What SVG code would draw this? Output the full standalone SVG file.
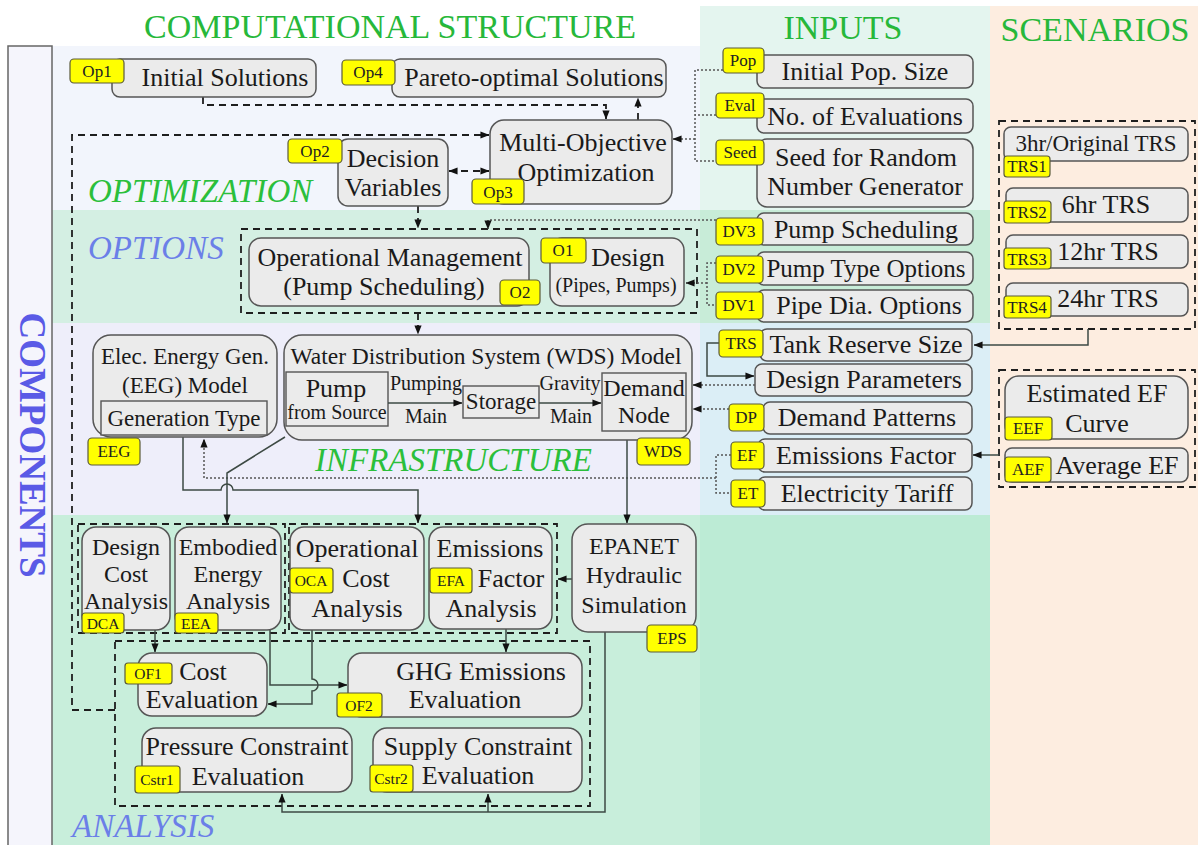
<svg xmlns="http://www.w3.org/2000/svg" width="1198" height="845" viewBox="0 0 1198 845">
<style>
.n{fill:#ebebeb;stroke:#555;stroke-width:1.5}
.in{fill:#ebebeb;stroke:#555;stroke-width:1.4}
.tag{fill:#ffff00;stroke:#5a5a3a;stroke-width:1.2}
.t{font-family:"Liberation Serif","Times New Roman",serif;fill:#1a1a1a;text-anchor:middle;font-size:26px}
.s20{font-size:20px}
.s23{font-size:23px}
.s24{font-size:24px}
.s25{font-size:25px}
.tg{font-size:17px;fill:#222}
.tg2{font-size:15.5px;fill:#222}
.hd{font-family:"Liberation Serif","Times New Roman",serif;font-size:34px;fill:#27b83a;text-anchor:middle}
.sec{font-family:"Liberation Serif","Times New Roman",serif;font-size:33px;font-style:italic}
.dash{fill:none;stroke:#1e1e1e;stroke-width:1.8;stroke-dasharray:7 5}
.dot{fill:none;stroke:#555;stroke-width:1.5;stroke-dasharray:2 2}
.sol{fill:none;stroke:#3d4a44;stroke-width:1.5}
</style>
<defs>
<marker id="ah" viewBox="0 0 10 10" refX="9.5" refY="5" markerWidth="9" markerHeight="9" markerUnits="userSpaceOnUse" orient="auto-start-reverse">
<path d="M0,1 L10,5 L0,9 z" fill="#111"/>
</marker>
</defs>

<rect x="0" y="0" width="1198" height="845" fill="#ffffff"/>
<rect x="52" y="46" width="648" height="164" fill="#f2f5fc"/>
<rect x="52" y="210" width="648" height="113" fill="#d4efe3"/>
<rect x="52" y="323" width="648" height="192" fill="#eeeefa"/>
<rect x="52" y="515" width="648" height="330" fill="#c8eedb"/>
<rect x="700" y="6" width="290" height="204" fill="#e4f5ef"/>
<rect x="700" y="210" width="290" height="113" fill="#c8ecd8"/>
<rect x="700" y="323" width="290" height="192" fill="#dbeef6"/>
<rect x="700" y="515" width="290" height="330" fill="#bcebd5"/>
<rect x="990" y="6" width="208" height="839" fill="#fdede0"/>
<rect x="8" y="46" width="44" height="805" fill="#f5f5fc" stroke="#666" stroke-width="1.5"/>

<text class="hd" x="390" y="38">COMPUTATIONAL STRUCTURE</text>
<text class="hd" x="843" y="39">INPUTS</text>
<text class="hd" x="1095" y="41">SCENARIOS</text>
<text transform="translate(20,445) rotate(90)" font-family="Liberation Serif, Times New Roman, serif" font-size="37" font-weight="bold" fill="#5a5ae6" text-anchor="middle">COMPONENTS</text>
<text class="sec" x="88" y="202" fill="#2bbf3b">OPTIMIZATION</text>
<text class="sec" x="88" y="259" fill="#6b7fe8">OPTIONS</text>
<text class="sec" x="315" y="471" fill="#2bbf3b">INFRASTRUCTURE</text>
<text class="sec" x="72" y="837" fill="#6b7fe8">ANALYSIS</text>

<g id="containers">
<rect class="dash" x="241" y="229" width="456" height="84"/>
<rect class="dash" x="999" y="121" width="196" height="208"/>
<rect class="dash" x="999" y="370" width="196" height="117"/>
<rect class="dash" x="78" y="524" width="207" height="109"/>
<rect class="dash" x="289" y="524" width="268" height="109"/>
<rect class="dash" x="115" y="641" width="475" height="165"/>
</g>

<g id="connectors">
<path class="dash" d="M203,97 V105 H606 V119" marker-end="url(#ah)"/>
<path class="dash" d="M638,120 V98" marker-end="url(#ah)"/>
<path class="dash" d="M115,710 H72 V135 H489" marker-end="url(#ah)"/>
<path class="dash" d="M449,171 H489" marker-start="url(#ah)" marker-end="url(#ah)"/>
<path class="dash" d="M418,206 V228" marker-end="url(#ah)"/>
<path class="dot" d="M723,70 H695 V161 H716 M716,115 H695"/>
<path class="dot" d="M695,139 H673" marker-end="url(#ah)"/>
<path class="dot" d="M716,220 H488 V229" marker-end="url(#ah)"/>
<path class="dot" d="M716,263 H707 V305 H716"/>
<path class="dot" d="M707,283 H686" marker-end="url(#ah)"/>
<path class="dash" d="M418,313 V334" marker-end="url(#ah)"/>
<path class="sol" d="M719,343 H707 V376 H754" marker-end="url(#ah)"/>
<path class="dot" d="M755,385 H693" marker-end="url(#ah)"/>
<path class="dot" d="M729,409 H693" marker-end="url(#ah)"/>
<path class="dot" d="M731,455 H716 V493 H731"/>
<path class="dot" d="M716,478 H204 V439" marker-end="url(#ah)"/>
<path class="sol" d="M1088,329 V345 H974" marker-end="url(#ah)"/>
<path class="sol" d="M999,455 H973" marker-end="url(#ah)"/>
<path class="sol" d="M285,437 L227,473 V523" marker-end="url(#ah)"/>
<path class="sol" d="M183,437 V490 H221 A6,6 0 0 1 233,490 H418 V523" marker-end="url(#ah)"/>
<path class="sol" d="M627,432 V523" marker-end="url(#ah)"/>
<path class="sol" d="M572,579 H558" marker-end="url(#ah)"/>
<path class="sol" d="M605,632 V812 H282 V794" marker-end="url(#ah)"/>
<path class="sol" d="M488,812 V794" marker-end="url(#ah)"/>
<path class="sol" d="M155,630 V652" marker-end="url(#ah)"/>
<path class="sol" d="M270,630 V685 H347" marker-end="url(#ah)"/>
<path class="sol" d="M312,630 V679 A6,6 0 0 1 312,691 V704 H268" marker-end="url(#ah)"/>
<path class="sol" d="M506,629 V652" marker-end="url(#ah)"/>
</g>

<g id="op1"><rect class="n" x="112" y="59" width="204" height="38" rx="8"/><text class="t" x="225" y="86">Initial Solutions</text><rect class="tag" x="70" y="59" width="54" height="24" rx="4"/><text class="t tg" x="97" y="77">Op1</text></g>
<g id="op4"><rect class="n" x="392" y="59" width="274" height="38" rx="8"/><text class="t" x="534" y="86">Pareto-optimal Solutions</text><rect class="tag" x="342" y="60" width="53" height="25" rx="4"/><text class="t tg" x="368" y="78">Op4</text></g>
<g id="op3"><rect class="n" x="490" y="120" width="182" height="84" rx="14"/><text class="t" x="583" y="151">Multi-Objective</text><text class="t" x="586" y="181">Optimization</text><rect class="tag" x="472" y="179" width="52" height="25" rx="4"/><text class="t tg" x="498" y="198">Op3</text></g>
<g id="op2"><rect class="n" x="338" y="139" width="110" height="67" rx="10"/><text class="t" x="393" y="167">Decision</text><text class="t" x="393" y="196">Variables</text><rect class="tag" x="288" y="139" width="54" height="24" rx="4"/><text class="t tg" x="315" y="157">Op2</text></g>

<g id="o2"><rect class="n" x="249" y="238" width="280" height="68" rx="12"/><text class="t" x="390" y="266">Operational Management</text><text class="t" x="384" y="295">(Pump Scheduling)</text><rect class="tag" x="500" y="280" width="40" height="25" rx="4"/><text class="t tg" x="520" y="298">O2</text></g>
<g id="o1"><rect class="n" x="550" y="238" width="134" height="68" rx="12"/><text class="t" x="628" y="266">Design</text><text class="t s20" x="616" y="292">(Pipes, Pumps)</text><rect class="tag" x="541" y="238" width="45" height="25" rx="4"/><text class="t tg" x="563" y="256">O1</text></g>

<g id="eeg"><rect class="n" x="93" y="335" width="184" height="102" rx="18"/><text class="t s23" x="185" y="364">Elec. Energy Gen.</text><text class="t s23" x="185" y="393">(EEG) Model</text><rect class="in" x="101" y="401" width="166" height="34"/><text class="t s23" x="184" y="426">Generation Type</text><rect class="tag" x="88" y="438" width="52" height="27" rx="4"/><text class="t tg" x="114" y="457">EEG</text></g>
<g id="wds"><rect class="n" x="284" y="335" width="408" height="105" rx="18"/><text class="t" style="font-size:23.5px" x="486" y="364">Water Distribution System (WDS) Model</text>
<rect class="in" x="286" y="372" width="102" height="54"/><text class="t" x="336" y="397">Pump</text><text class="t s20" x="337" y="419">from Source</text>
<text class="t s20" x="426" y="390">Pumping</text><text class="t s20" x="426" y="423">Main</text>
<path class="sol" d="M388,403 H462" marker-end="url(#ah)"/>
<rect class="in" x="463" y="386" width="76" height="32"/><text class="t s23" x="501" y="409">Storage</text>
<text class="t s20" x="570" y="390">Gravity</text><text class="t s20" x="571" y="423">Main</text>
<path class="sol" d="M539,403 H601" marker-end="url(#ah)"/>
<rect class="in" x="602" y="373" width="84" height="58"/><text class="t s24" x="644" y="396">Demand</text><text class="t s24" x="644" y="423">Node</text>
<rect class="tag" x="637" y="438" width="53" height="27" rx="4"/><text class="t tg" x="663" y="457">WDS</text></g>

<g id="pop"><rect class="n" x="757" y="55" width="216" height="33" rx="7"/><text class="t" x="865" y="80">Initial Pop. Size</text><rect class="tag" x="723" y="48" width="41" height="25" rx="4"/><text class="t tg" x="743" y="66">Pop</text></g>
<g id="eval"><rect class="n" x="757" y="99" width="216" height="34" rx="7"/><text class="t" x="865" y="125">No. of Evaluations</text><rect class="tag" x="716" y="93" width="48" height="25" rx="4"/><text class="t tg" x="740" y="111">Eval</text></g>
<g id="seed"><rect class="n" x="757" y="139" width="216" height="68" rx="10"/><text class="t" x="866" y="166">Seed for Random</text><text class="t" x="865" y="195">Number Generator</text><rect class="tag" x="716" y="140" width="48" height="25" rx="4"/><text class="t tg" x="740" y="158">Seed</text></g>
<g id="dv3"><rect class="n" x="757" y="213" width="216" height="32" rx="7"/><text class="t" x="866" y="238">Pump Scheduling</text><rect class="tag" x="716" y="218" width="47" height="27" rx="4"/><text class="t tg" x="739" y="237">DV3</text></g>
<g id="dv2"><rect class="n" x="757" y="252" width="216" height="33" rx="7"/><text class="t s25" x="866" y="277">Pump Type Options</text><rect class="tag" x="716" y="256" width="47" height="27" rx="4"/><text class="t tg" x="739" y="275">DV2</text></g>
<g id="dv1"><rect class="n" x="757" y="290" width="216" height="32" rx="7"/><text class="t" x="869" y="314">Pipe Dia. Options</text><rect class="tag" x="716" y="292" width="47" height="27" rx="4"/><text class="t tg" x="739" y="311">DV1</text></g>
<g id="trs"><rect class="n" x="760" y="329" width="212" height="32" rx="7"/><text class="t" x="866" y="353">Tank Reserve Size</text><rect class="tag" x="719" y="330" width="44" height="27" rx="4"/><text class="t tg" x="741" y="349">TRS</text></g>
<g id="dpar"><rect class="n" x="755" y="364" width="217" height="32" rx="7"/><text class="t" x="864" y="388">Design Parameters</text></g>
<g id="dp"><rect class="n" x="763" y="402" width="209" height="32" rx="7"/><text class="t" x="867" y="426">Demand Patterns</text><rect class="tag" x="729" y="404" width="35" height="27" rx="4"/><text class="t tg" x="746" y="423">DP</text></g>
<g id="ef"><rect class="n" x="758" y="439" width="214" height="33" rx="7"/><text class="t" x="866" y="464">Emissions Factor</text><rect class="tag" x="731" y="442" width="33" height="27" rx="4"/><text class="t tg" x="747" y="461">EF</text></g>
<g id="et"><rect class="n" x="758" y="477" width="214" height="33" rx="7"/><text class="t" x="867" y="502">Electricity Tariff</text><rect class="tag" x="731" y="480" width="34" height="27" rx="4"/><text class="t tg" x="748" y="499">ET</text></g>

<g id="trs1"><rect class="n" x="1004" y="127" width="184" height="34" rx="7"/><text class="t s23" x="1096" y="151">3hr/Original TRS</text><rect class="tag" x="1004" y="156" width="46" height="21" rx="3"/><text class="t tg" x="1027" y="172">TRS1</text></g>
<g id="trs2"><rect class="n" x="1006" y="188" width="182" height="34" rx="7"/><text class="t" x="1106" y="213">6hr TRS</text><rect class="tag" x="1004" y="201" width="47" height="22" rx="3"/><text class="t tg" x="1027" y="218">TRS2</text></g>
<g id="trs3"><rect class="n" x="1006" y="235" width="182" height="33" rx="7"/><text class="t" x="1108" y="260">12hr TRS</text><rect class="tag" x="1004" y="248" width="47" height="21" rx="3"/><text class="t tg" x="1027" y="265">TRS3</text></g>
<g id="trs4"><rect class="n" x="1006" y="283" width="182" height="33" rx="7"/><text class="t" x="1108" y="307">24hr TRS</text><rect class="tag" x="1004" y="296" width="47" height="22" rx="3"/><text class="t tg" x="1027" y="313">TRS4</text></g>
<g id="eef"><rect class="n" x="1005" y="376" width="183" height="63" rx="14"/><text class="t" x="1097" y="402">Estimated EF</text><text class="t" x="1097" y="432">Curve</text><rect class="tag" x="1005" y="417" width="47" height="23" rx="3"/><text class="t tg" x="1028" y="434">EEF</text></g>
<g id="aef"><rect class="n" x="1005" y="448" width="183" height="34" rx="7"/><text class="t" x="1117" y="474">Average EF</text><rect class="tag" x="1005" y="457" width="46" height="25" rx="3"/><text class="t tg" x="1028" y="475">AEF</text></g>

<g id="dca"><rect class="n" x="82" y="527" width="88" height="103" rx="14"/><text class="t s24" x="126" y="555">Design</text><text class="t s24" x="126" y="582">Cost</text><text class="t s24" x="126" y="609">Analysis</text><rect class="tag" x="82" y="613" width="42" height="20" rx="3"/><text class="t tg2" x="103" y="629">DCA</text></g>
<g id="eea"><rect class="n" x="175" y="527" width="106" height="103" rx="14"/><text class="t s24" x="228" y="555">Embodied</text><text class="t s24" x="228" y="582">Energy</text><text class="t s24" x="228" y="609">Analysis</text><rect class="tag" x="175" y="613" width="43" height="20" rx="3"/><text class="t tg2" x="196" y="629">EEA</text></g>
<g id="oca"><rect class="n" x="290" y="527" width="134" height="103" rx="14"/><text class="t" x="357" y="557">Operational</text><text class="t" x="366" y="587">Cost</text><text class="t" x="357" y="617">Analysis</text><rect class="tag" x="290" y="568" width="43" height="25" rx="3"/><text class="t tg2" x="311" y="586">OCA</text></g>
<g id="efa"><rect class="n" x="429" y="527" width="123" height="102" rx="14"/><text class="t" x="490" y="557">Emissions</text><text class="t" x="511" y="587">Factor</text><text class="t" x="491" y="617">Analysis</text><rect class="tag" x="430" y="568" width="42" height="25" rx="3"/><text class="t tg2" x="451" y="586">EFA</text></g>
<g id="eps"><rect class="n" x="572" y="524" width="124" height="108" rx="16"/><text class="t s24" x="634" y="554">EPANET</text><text class="t s24" x="634" y="583">Hydraulic</text><text class="t s24" x="634" y="613">Simulation</text><rect class="tag" x="647" y="625" width="50" height="27" rx="4"/><text class="t tg" x="672" y="644">EPS</text></g>
<g id="of1"><rect class="n" x="138" y="653" width="129" height="63" rx="14"/><text class="t" x="203" y="680">Cost</text><text class="t" x="202" y="708">Evaluation</text><rect class="tag" x="125" y="663" width="47" height="21" rx="3"/><text class="t tg2" x="148" y="679">OF1</text></g>
<g id="of2"><rect class="n" x="348" y="653" width="234" height="64" rx="14"/><text class="t" x="481" y="680">GHG Emissions</text><text class="t" x="465" y="708">Evaluation</text><rect class="tag" x="337" y="693" width="45" height="24" rx="3"/><text class="t tg2" x="359" y="711">OF2</text></g>
<g id="cstr1"><rect class="n" x="142" y="728" width="210" height="64" rx="14"/><text class="t" x="247" y="755">Pressure Constraint</text><text class="t" x="248" y="785">Evaluation</text><rect class="tag" x="135" y="766" width="45" height="27" rx="3"/><text class="t tg2" x="157" y="785">Cstr1</text></g>
<g id="cstr2"><rect class="n" x="373" y="728" width="209" height="64" rx="14"/><text class="t" x="478" y="755">Supply Constraint</text><text class="t" x="478" y="784">Evaluation</text><rect class="tag" x="370" y="765" width="43" height="27" rx="3"/><text class="t tg2" x="391" y="784">Cstr2</text></g>
</svg>
